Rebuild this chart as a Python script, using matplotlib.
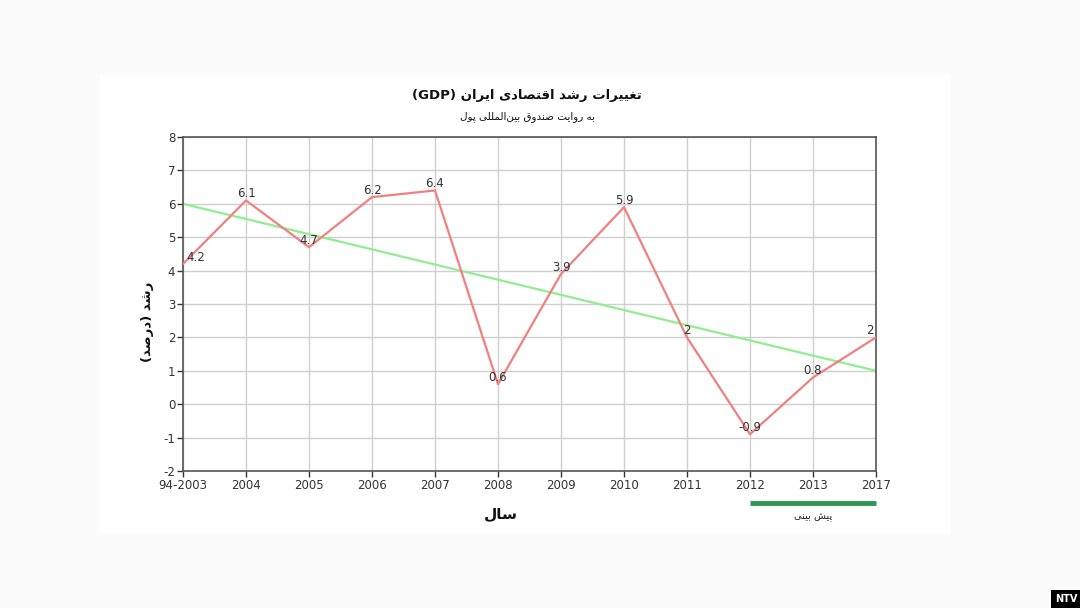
import matplotlib
matplotlib.use("Agg")
import matplotlib.pyplot as plt
from matplotlib.patches import Rectangle
from matplotlib.lines import Line2D

plt.rcParams["axes.unicode_minus"] = False

# ---------------- data ----------------
years = ["94-2003", "2004", "2005", "2006", "2007", "2008", "2009", "2010",
         "2011", "2012", "2013", "2017"]
growth = [4.2, 6.1, 4.7, 6.2, 6.4, 0.6, 3.9, 5.9, 2, -0.9, 0.8, 2]
growth_labels = ["4.2", "6.1", "4.7", "6.2", "6.4", "0.6", "3.9", "5.9", "2", "-0.9", "0.8", "2"]
trend_start, trend_end = 6.0, 1.0
yticks = [-2, -1, 0, 1, 2, 3, 4, 5, 6, 7, 8]

title_fa = "تغییرات رشد اقتصادی ایران"
title_latin = "(GDP)"
subtitle_fa = "به روایت صندوق بین\u200cالمللی پول"
ylabel_fa = "رشد (درصد)"
xlabel_fa = "سال"
forecast_fa = "پیش بینی"
forecast_from = "2012"
forecast_to = "2017"

# ------------- minimal Persian shaping (presentation forms, visual order) -------------
FORMS = {  # isolated, final, initial, medial
    "\u0627": (0xFE8D, 0xFE8E, None, None),
    "\u0628": (0xFE8F, 0xFE90, 0xFE91, 0xFE92),
    "\u067E": (0xFB56, 0xFB57, 0xFB58, 0xFB59),
    "\u062A": (0xFE95, 0xFE96, 0xFE97, 0xFE98),
    "\u062F": (0xFEA9, 0xFEAA, None, None),
    "\u0631": (0xFEAD, 0xFEAE, None, None),
    "\u0633": (0xFEB1, 0xFEB2, 0xFEB3, 0xFEB4),
    "\u0634": (0xFEB5, 0xFEB6, 0xFEB7, 0xFEB8),
    "\u0635": (0xFEB9, 0xFEBA, 0xFEBB, 0xFEBC),
    "\u063A": (0xFECD, 0xFECE, 0xFECF, 0xFED0),
    "\u0642": (0xFED5, 0xFED6, 0xFED7, 0xFED8),
    "\u0644": (0xFEDD, 0xFEDE, 0xFEDF, 0xFEE0),
    "\u0645": (0xFEE1, 0xFEE2, 0xFEE3, 0xFEE4),
    "\u0646": (0xFEE5, 0xFEE6, 0xFEE7, 0xFEE8),
    "\u0647": (0xFEE9, 0xFEEA, 0xFEEB, 0xFEEC),
    "\u0648": (0xFEED, 0xFEEE, None, None),
    "\u06CC": (0xFBFC, 0xFBFD, 0xFBFE, 0xFBFF),
}


def joins_left(c):
    return c in FORMS and FORMS[c][2] is not None


def shape(text):
    out = []
    n = len(text)
    for i, c in enumerate(text):
        if c not in FORMS:
            if c == "\u200c":
                continue
            out.append(c)
            continue
        prev = text[i - 1] if i > 0 else ""
        nxt = text[i + 1] if i + 1 < n else ""
        from_prev = joins_left(prev)
        to_next = joins_left(c) and nxt in FORMS
        iso, fin, ini, med = FORMS[c]
        if from_prev and to_next:
            cp = med
        elif from_prev:
            cp = fin
        elif to_next:
            cp = ini
        else:
            cp = iso
        out.append(chr(cp))
    vis = "".join(reversed(out))
    swap = {"(": ")", ")": "("}
    return "".join(swap.get(ch, ch) for ch in vis)


FONT = ["DejaVu Sans"]

# ---------------- figure ----------------
fig = plt.figure(figsize=(10.8, 6.08), dpi=100)
fig.patch.set_facecolor("#fbfbfb")
fig.patches.append(Rectangle((100 / 1080, 1 - 535 / 608), 850 / 1080, 460 / 608,
                             transform=fig.transFigure, facecolor="white",
                             edgecolor="none", zorder=-5))

ax = fig.add_axes([183 / 1080, 1 - 471 / 608, 693 / 1080, 334 / 608])
ax.set_zorder(1)
ax.set_facecolor("white")
x = list(range(len(years)))

ax.set_xlim(0, len(years) - 1)
ax.set_ylim(-2, 8)
ax.set_yticks(yticks)
ax.set_xticks(x)
ax.set_xticklabels(years)
ax.grid(True, color="#cfcfcf", linewidth=1)
ax.set_axisbelow(True)
for s in ax.spines.values():
    s.set_color("#555555")
    s.set_linewidth(1.2)
ax.tick_params(axis="both", colors="#333333", labelsize=8.5, length=4, width=1)
ax.tick_params(axis="x", pad=2)
ax.tick_params(axis="y", pad=1.5)

ax.plot([x[0], x[-1]], [trend_start, trend_end], color="#90ee90", linewidth=1.6, zorder=2)
ax.plot(x, growth, color="#f08080", linewidth=1.6, zorder=3)

for i, (xi, v, lab) in enumerate(zip(x, growth, growth_labels)):
    ha, dx = "center", 0
    if i == 0:
        ha, dx = "left", 3
    elif i == len(x) - 1:
        ha, dx = "right", -2
    ax.annotate(lab, (xi, v), xytext=(dx, 0), textcoords="offset pixels",
                ha=ha, va="bottom", fontsize=8.5, color="#333333", zorder=4)

# titles
fig.text(527 / 1080, 1 - 96 / 608, title_latin + " " + shape(title_fa),
         ha="center", va="center", fontsize=9.5, fontweight="bold",
         family=FONT, color="#111111")
fig.text(527 / 1080, 1 - 117 / 608, shape(subtitle_fa),
         ha="center", va="center", fontsize=7.5, family=FONT, color="#111111")

# axis labels
fig.text(501 / 1080, 1 - 514 / 608, shape(xlabel_fa), ha="center", va="center",
         fontsize=11, fontweight="bold", family=FONT, color="#111111")
fig.text(148 / 1080, 1 - 322 / 608, shape(ylabel_fa), ha="center", va="center",
         rotation=90, fontsize=9.5, fontweight="bold", family=FONT, color="#111111")

# forecast marker
i0, i1 = years.index(forecast_from), years.index(forecast_to)
p0 = ax.transData.transform((x[i0], 0))[0]
p1 = ax.transData.transform((x[i1], 0))[0]
fig.lines.append(Line2D([p0 / 1080, p1 / 1080], [1 - 503 / 608, 1 - 503 / 608],
                        transform=fig.transFigure, color="#2e9650", linewidth=3.5,
                        solid_capstyle="butt"))
fig.text((p0 + p1) / 2 / 1080, 1 - 517 / 608, shape(forecast_fa), ha="center",
         va="center", fontsize=7, family=FONT, color="#222222")

# NTV badge
fig.text(1066 / 1080, 1 - 599 / 608, "NTV", ha="center", va="center", fontsize=7,
         fontweight="bold", color="white",
         bbox=dict(boxstyle="square,pad=0.4", facecolor="black", edgecolor="none"))

fig.savefig("out.png", dpi=100, facecolor=fig.get_facecolor())
